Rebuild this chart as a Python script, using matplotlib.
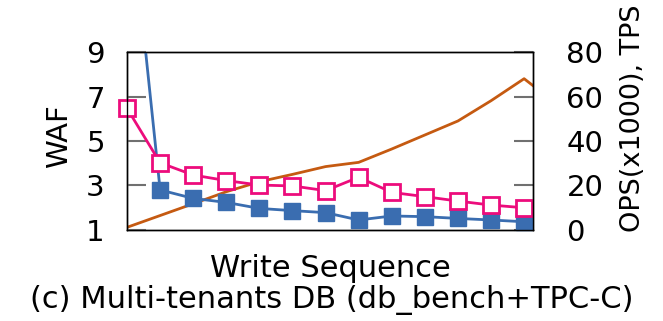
import matplotlib.pyplot as plt

# Values (14th point lies past the right edge and is clipped)
seq = list(range(14))
waf_dbbench = [17.0, 2.80, 2.42, 2.24, 1.97, 1.87, 1.78, 1.45, 1.63, 1.60, 1.52, 1.45, 1.37, 1.32]
waf_tpcc = [6.47, 4.02, 3.47, 3.22, 3.02, 2.98, 2.77, 3.37, 2.69, 2.50, 2.30, 2.12, 2.00, 1.22]
ops = [1.2, 6.5, 11.8, 17.2, 21.7, 25.0, 28.5, 30.4, 36.4, 42.7, 49.0, 58.1, 68.0, 56.4]

blue = '#3A6DB0'
pink = '#EC0C7C'
orange = '#C55A11'

fig = plt.figure(figsize=(6.63, 3.21), dpi=100)
ax = fig.add_axes([0.1916, 0.2835, 0.6124, 0.5545])
ax2 = ax.twinx()

# OPS line on the right axis, drawn underneath
ax2.plot(seq, ops, color=orange, linewidth=2.0, zorder=1)
ax2.set_ylim(0, 80)
ax2.set_yticks([0, 20, 40, 60, 80])

ax.set_zorder(ax2.get_zorder() + 1)
ax.patch.set_visible(False)

# lines are clipped to the axes, markers on the edge are not
ax.plot(seq, waf_dbbench, color=blue, linewidth=2.0)
ax.plot(seq[1:13], waf_dbbench[1:13], linestyle='none', marker='s', markersize=11,
        markerfacecolor=blue, markeredgecolor=blue, clip_on=False)
ax.plot(seq, waf_tpcc, color=pink, linewidth=2.0)
ax.plot(seq[:13], waf_tpcc[:13], linestyle='none', marker='s', markersize=11,
        markerfacecolor='white', markeredgecolor=pink, markeredgewidth=2.0,
        clip_on=False)
ax.set_xlim(0, 12.27)
ax.set_ylim(1, 9)
ax.set_yticks([1, 3, 5, 7, 9])
ax.set_xticks([])

for a in (ax, ax2):
    a.tick_params(axis='y', direction='in', length=14, width=1.5, color='#707070',
                  labelsize=21)
    for s in a.spines.values():
        s.set_linewidth(1.0)
ax.tick_params(axis='y', pad=16)
ax2.tick_params(axis='y', pad=24)

ax.set_ylabel('WAF', fontsize=21)
ax.yaxis.set_label_coords(-0.133, 0.53)
ax2.set_ylabel('OPS(x1000), TPS', fontsize=19.5)
ax2.yaxis.set_label_coords(1.214, 0.63)

ax.set_xlabel('Write Sequence', fontsize=22, labelpad=17)
fig.text(0.5, 0.065, '(c) Multi-tenants DB (db_bench+TPC-C)', fontsize=22,
         ha='center', va='center')

fig.savefig('out.png', dpi=100)
